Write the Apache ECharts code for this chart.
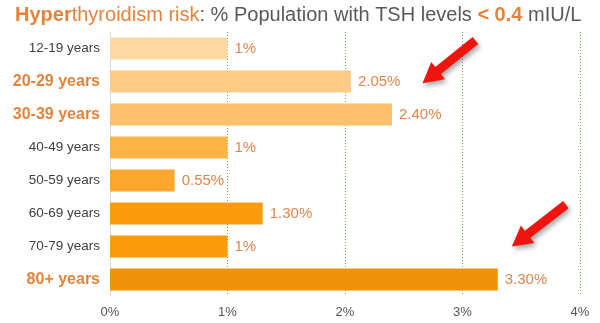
<!DOCTYPE html>
<html>
<head>
<meta charset="utf-8">
<script src="https://cdn.jsdelivr.net/npm/echarts@6/dist/echarts.min.js"></script>
<style>
  html, body { margin: 0; padding: 0; background: #fff; }
  #chart { width: 600px; height: 323px; }
</style>
</head>
<body>
<div id="chart"></div>
<script>
// Age groups, top to bottom
const categories = ['12-19 years', '20-29 years', '30-39 years', '40-49 years',
                    '50-59 years', '60-69 years', '70-79 years', '80+ years'];
// Share of population with TSH < 0.4 mIU/L (%)
const values = [1, 2.05, 2.40, 1, 0.55, 1.30, 1, 3.30];
const valueLabels = ['1%', '2.05%', '2.40%', '1%', '0.55%', '1.30%', '1%', '3.30%'];
// Age groups called out in bold
const highlighted = ['20-29 years', '30-39 years', '80+ years'];
const barColors = ['#FDD8A0', '#FDCB84', '#FDC06C', '#FCB446',
                   '#FBA72E', '#FA9C0E', '#F99B0B', '#EE920A'];
const xTicks = ['0%', '1%', '2%', '3%', '4%'];
// Callout arrows: [tailX, tailY(category index), tipX, tipY(category index)]
const arrows = [
  [3.11, -0.24, 2.66, 1.05],
  [3.88, 4.73, 3.42, 6.00]
];

const chart = echarts.init(document.getElementById('chart'), null, { renderer: 'canvas' });
const FONT = 'Liberation Sans, Arial, sans-serif';

chart.setOption({
  animation: false,
  title: {
    left: 15, top: 5, padding: 0,
    text: '{b|Hyper}{o|thyroidism risk}{g|: % Population with TSH levels }{b|< 0.4}{g| mIU/L}',
    textStyle: {
      fontFamily: FONT, fontWeight: 'normal',
      rich: {
        b: { color: '#E8823A', fontWeight: 'bold', fontSize: 20, fontFamily: FONT },
        o: { color: '#E8823A', fontWeight: 'normal', fontSize: 20, fontFamily: FONT },
        g: { color: '#595959', fontWeight: 'normal', fontSize: 20, fontFamily: FONT }
      }
    }
  },
  grid: { left: 110, right: 20, top: 32, bottom: 27, containLabel: false },
  xAxis: {
    type: 'value', min: 0, max: 4, interval: 1,
    axisLine: { show: false },
    axisTick: { show: false },
    axisLabel: {
      color: '#555', fontSize: 13, fontFamily: FONT, margin: 10,
      formatter: (v) => xTicks[Math.round(v)]
    },
    splitLine: {
      show: true,
      lineStyle: { color: '#6AA84F', type: [1, 2], width: 1 }
    }
  },
  yAxis: {
    type: 'category', data: categories, inverse: true,
    axisLine: { show: true, lineStyle: { color: '#D9D9D9', width: 1 } },
    axisTick: { show: false },
    axisLabel: {
      margin: 10, fontFamily: FONT,
      formatter: (v) => highlighted.includes(v) ? '{h|' + v + '}' : '{n|' + v + '}',
      rich: {
        h: { color: '#E8823A', fontWeight: 'bold', fontSize: 16, fontFamily: FONT },
        n: { color: '#404040', fontSize: 13.5, fontFamily: FONT }
      }
    }
  },
  series: [{
    type: 'bar',
    barWidth: 22,
    data: values.map((v, i) => ({ value: v, itemStyle: { color: barColors[i] } })),
    label: {
      show: true, position: 'right', distance: 7,
      color: '#E0864A', fontSize: 15, fontFamily: FONT,
      formatter: (p) => valueLabels[p.dataIndex]
    }
  }]
});

// Callout arrows placed in data space
function yPix(idx) {
  const p0 = chart.convertToPixel({ yAxisIndex: 0 }, categories[0]);
  const p1 = chart.convertToPixel({ yAxisIndex: 0 }, categories[1]);
  return p0 + (p1 - p0) * idx;
}
function arrowPoints(x1, y1, x2, y2) {
  const dx = x2 - x1, dy = y2 - y1;
  const len = Math.hypot(dx, dy);
  const ux = dx / len, uy = dy / len;
  const nx = -uy, ny = ux;
  const shaftW = 4.5, headW = 11, headL = 20;
  const bx = x2 - ux * headL, by = y2 - uy * headL;
  return [
    [x1 + nx * shaftW, y1 + ny * shaftW],
    [bx + nx * shaftW, by + ny * shaftW],
    [bx + nx * headW, by + ny * headW],
    [x2, y2],
    [bx - nx * headW, by - ny * headW],
    [bx - nx * shaftW, by - ny * shaftW],
    [x1 - nx * shaftW, y1 - ny * shaftW]
  ];
}
const graphics = arrows.map((a) => {
  const x1 = chart.convertToPixel({ xAxisIndex: 0 }, a[0]);
  const x2 = chart.convertToPixel({ xAxisIndex: 0 }, a[2]);
  const y1 = yPix(a[1]);
  const y2 = yPix(a[3]);
  return {
    type: 'polygon',
    z: 100,
    shape: { points: arrowPoints(x1, y1, x2, y2) },
    style: {
      fill: '#F0140F',
      shadowBlur: 5, shadowColor: 'rgba(0,0,0,0.35)',
      shadowOffsetX: 2, shadowOffsetY: 3
    }
  };
});
chart.setOption({ graphic: graphics });
</script>
</body>
</html>
